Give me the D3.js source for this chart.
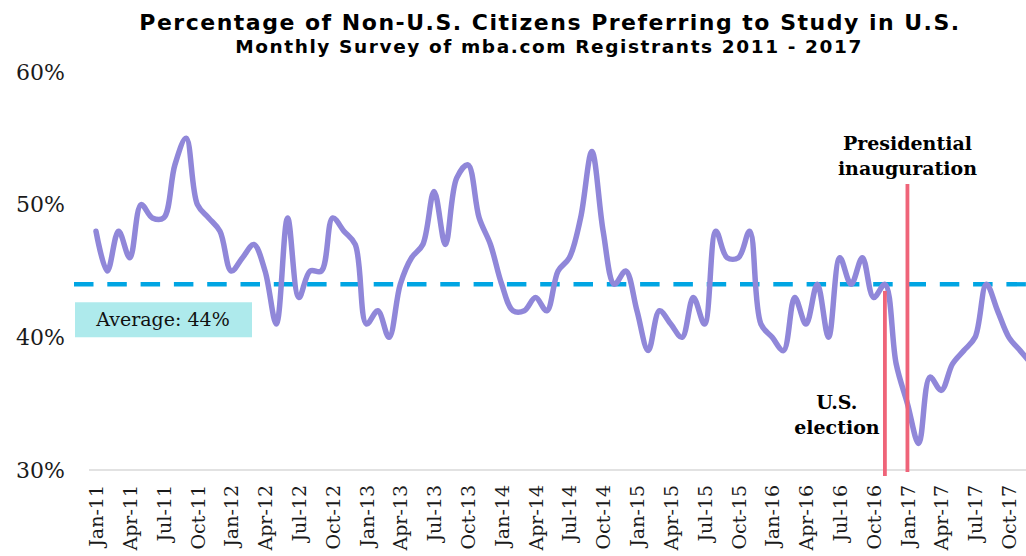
<!DOCTYPE html>
<html>
<head>
<meta charset="utf-8">
<script src="https://cdn.jsdelivr.net/npm/d3@7"></script>
<style>
  body { margin: 0; background: #fff; overflow: hidden; }
  svg { display: block; }
</style>
</head>
<body>
<div id="chart"></div>
<script>
// Dimensions of the picture.
var width = 1026;
var height = 556;

// Months shown on the category axis, Jan-11 .. Dec-17.
var monthNames = ["Jan", "Feb", "Mar", "Apr", "May", "Jun", "Jul", "Aug", "Sep", "Oct", "Nov", "Dec"];
var years = ["11", "12", "13", "14", "15", "16", "17"];
var months = [];
years.forEach(function(y) {
  monthNames.forEach(function(m) { months.push(m + "-" + y); });
});

// Share of non-U.S. citizens preferring the U.S. (%), one value per month.
var share2011 = [48, 45, 48, 46, 50, 49, 49, 53, 55, 50, 49, 48];
var share2012 = [45, 46, 47, 45, 41, 49, 43, 45, 45, 49, 48, 47];
var share2013 = [41, 42, 40, 44, 46, 47, 51, 47, 52, 53, 49, 47];
var share2014 = [44, 42, 42, 43, 42, 45, 46, 49, 54, 48, 44, 45];
var share2015 = [42, 39, 42, 41, 40, 43, 41, 48, 46, 46, 48, 41];
var share2016 = [40, 39, 43, 41, 44, 40, 46, 44, 46, 43, 44, 38];
var share2017 = [35, 32, 37, 36, 38, 39, 40, 44, 42, 40, 39, 38];
var shares = [].concat(share2011, share2012, share2013, share2014, share2015, share2016, share2017);

var average = 44;
var yTicks = [30, 40, 50, 60];

// Events marked with a vertical line.
var events = [
  { month: "Nov-16", lines: ["U.S.", "election"] },
  { month: "Jan-17", lines: ["Presidential", "inauguration"] }
];

var data = months.map(function(m, i) { return { month: m, value: shares[i] }; });

var svg = d3.select("#chart").append("svg")
    .attr("width", width)
    .attr("height", height);

var x = d3.scalePoint()
    .domain(months)
    .range([96, 96 + 11.27 * (months.length - 1)]);

var y = d3.scaleLinear()
    .domain([30, 60])
    .range([470, 72]);

// Title.
svg.append("text")
    .attr("x", 550)
    .attr("y", 30)
    .attr("text-anchor", "middle")
    .style("font-family", "'DejaVu Sans', Verdana, sans-serif")
    .style("font-weight", "bold")
    .style("font-size", "22px")
    .style("letter-spacing", "1.5px")
    .text("Percentage of Non-U.S. Citizens Preferring to Study in U.S.");

svg.append("text")
    .attr("x", 549)
    .attr("y", 53)
    .attr("text-anchor", "middle")
    .style("font-family", "'DejaVu Sans', Verdana, sans-serif")
    .style("font-weight", "bold")
    .style("font-size", "18.5px")
    .style("letter-spacing", "1.6px")
    .text("Monthly Survey of mba.com Registrants 2011 - 2017");

// Y axis labels only, no line.
var yAxis = svg.append("g")
    .attr("transform", "translate(65,0)")
    .call(d3.axisLeft(y).tickValues(yTicks).tickSize(0).tickPadding(0)
      .tickFormat(function(d) { return d + "%"; }));
yAxis.select(".domain").remove();
yAxis.selectAll("text")
    .style("font-family", "'DejaVu Serif', Georgia, serif")
    .style("font-size", "22px")
    .style("fill", "#1a1a1a");

// X axis: baseline plus every third month label, rotated.
svg.append("line")
    .attr("x1", 89).attr("x2", width)
    .attr("y1", y(30)).attr("y2", y(30))
    .style("stroke", "#d9d9d9")
    .style("stroke-width", 1.5);

var xAxis = svg.append("g")
    .attr("transform", "translate(0," + y(30) + ")")
    .call(d3.axisBottom(x)
      .tickValues(months.filter(function(d, i) { return i % 3 === 0; }))
      .tickSize(0));
xAxis.select(".domain").remove();
xAxis.selectAll("text")
    .attr("transform", "rotate(-90)")
    .attr("x", -15)
    .attr("y", 0)
    .attr("dy", "0.35em")
    .attr("text-anchor", "end")
    .style("font-family", "'DejaVu Serif', Georgia, serif")
    .style("font-size", "19px")
    .style("fill", "#1a1a1a");

// Average line and its label box.
svg.append("line")
    .attr("x1", 74).attr("x2", width)
    .attr("y1", y(average)).attr("y2", y(average))
    .style("stroke", "#00a5e3")
    .style("stroke-width", 4.3)
    .style("stroke-dasharray", "19.5 13.8");

svg.append("rect")
    .attr("x", 75)
    .attr("y", y(average) + 18)
    .attr("width", 177)
    .attr("height", 35)
    .style("fill", "#aeeaec");

svg.append("text")
    .attr("x", 163)
    .attr("y", y(average) + 42)
    .attr("text-anchor", "middle")
    .style("font-family", "'DejaVu Serif', Georgia, serif")
    .style("font-size", "19px")
    .style("fill", "#111")
    .text("Average: " + average + "%");

// The monthly series, smoothed like the spreadsheet original.
var line = d3.line()
    .x(function(d) { return x(d.month); })
    .y(function(d) { return y(d.value); })
    .curve(d3.curveCatmullRom);

svg.append("path")
    .datum(data)
    .attr("d", line)
    .style("fill", "none")
    .style("stroke", "#9087d9")
    .style("stroke-width", 5.5)
    .style("stroke-linejoin", "round")
    .style("stroke-linecap", "round");

// Event markers.
var election = events[0], inauguration = events[1];

svg.append("line")
    .attr("x1", x(election.month)).attr("x2", x(election.month))
    .attr("y1", y(43.5)).attr("y2", 476)
    .style("stroke", "#ef6479")
    .style("stroke-width", 3.8);

svg.append("line")
    .attr("x1", x(inauguration.month)).attr("x2", x(inauguration.month))
    .attr("y1", 184).attr("y2", 472)
    .style("stroke", "#ef6479")
    .style("stroke-width", 3.8);

svg.append("text")
    .attr("x", x(inauguration.month))
    .attr("y", 150)
    .attr("text-anchor", "middle")
    .style("font-family", "'DejaVu Serif', Georgia, serif")
    .style("font-weight", "bold")
    .style("font-size", "19px")
    .selectAll("tspan")
    .data(inauguration.lines)
    .enter().append("tspan")
    .attr("x", x(inauguration.month))
    .attr("dy", function(d, i) { return i ? 25 : 0; })
    .text(function(d) { return d; });

svg.append("text")
    .attr("x", x(election.month) - 48)
    .attr("y", 409)
    .attr("text-anchor", "middle")
    .style("font-family", "'DejaVu Serif', Georgia, serif")
    .style("font-weight", "bold")
    .style("font-size", "19px")
    .selectAll("tspan")
    .data(election.lines)
    .enter().append("tspan")
    .attr("x", x(election.month) - 48)
    .attr("dy", function(d, i) { return i ? 25 : 0; })
    .text(function(d) { return d; });
</script>
</body>
</html>
